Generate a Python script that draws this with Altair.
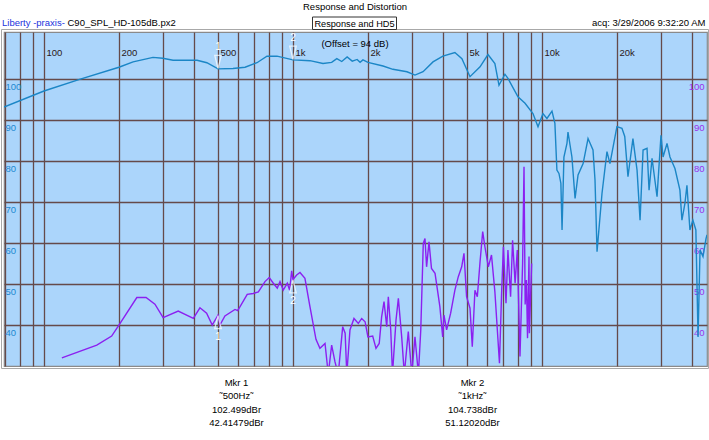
import altair as alt
import pandas as pd

# ---------------- data ----------------
resp_freq = [69.1, 100, 140, 200, 228, 274, 300, 330, 412, 451,
             500, 574, 642, 717, 786, 863, 1000, 1170, 1320, 1430,
             1500, 1570, 1650, 1730, 1810, 1860, 1910, 2000, 2300, 2520,
             2870, 3090, 3330, 3650, 4000, 4470, 4770, 5140, 5640, 6070,
             6470, 6720, 7100, 7300, 8010, 8550, 9200, 9640, 10090, 10470,
             10970, 11270, 11480, 11700, 11910, 12040, 12250, 12600, 12720, 13190,
             13580, 13960, 14630, 15310, 16030, 16330, 16640, 17420, 18240, 18750,
             20000, 20950, 21500, 22150, 23190, 24090, 24770, 25470, 26420, 26920,
             27670, 28980, 30060, 30640, 31780, 32660, 34200, 35810, 36480, 37510,
             38210, 39280, 40370, 41500, 42350, 43130, 44330, 45580, 46000]
resp_db = [93.2, 97.1, 100.0, 102.9, 104.2, 105.3, 105.1, 104.6, 104.6, 104.0,
           102.5, 102.6, 102.9, 104.0, 105.6, 105.6, 104.7, 104.5, 103.8, 104.1,
           105.0, 104.3, 105.4, 104.4, 104.8, 104.1, 104.7, 104.1, 103.2, 102.4,
           101.8, 101.0, 101.8, 104.2, 105.6, 106.5, 105.0, 100.6, 103.0, 106.0,
           103.8, 98.5, 101.2, 100.2, 95.7, 94.1, 91.6, 88.4, 91.6, 90.4,
           92.2, 89.2, 77.8, 77.0, 74.6, 63.2, 81.0, 84.3, 87.1, 81.0,
           70.9, 76.6, 79.4, 85.5, 82.7, 75.4, 57.9, 72.1, 82.3, 79.4,
           88.4, 88.0, 86.0, 76.2, 85.5, 77.8, 65.6, 82.7, 83.1, 72.9,
           80.7, 71.3, 86.3, 81.0, 84.3, 81.0, 78.2, 72.9, 65.6, 69.7,
           74.1, 63.2, 65.6, 63.2, 37.1, 58.3, 56.7, 61.1, 62.0]

hd5_freq = [118, 163, 187, 200, 236, 257, 279, 301, 346, 398,
            423, 450, 474, 500, 509, 533, 585, 600, 655, 693,
            726, 772, 803, 834, 865, 887, 914, 949, 970, 988,
            1000, 1035, 1067, 1117, 1170, 1237, 1283, 1345, 1386, 1430,
            1475, 1520, 1584, 1620, 1645, 1694, 1758, 1830, 1888, 1948,
            2000, 2090, 2155, 2220, 2270, 2321, 2380, 2415, 2470, 2510,
            2593, 2650, 2733, 2800, 2905, 3000, 3090, 3190, 3260, 3337,
            3390, 3440, 3518, 3600, 3720, 3890, 3993, 4040, 4140, 4298,
            4470, 4613, 4760, 4862, 4980, 5140, 5250, 5380, 5500, 5640,
            5780, 5900, 6090, 6270, 6470, 6750, 6890, 7000, 7170, 7300,
            7480, 7620, 7800, 7960, 8160, 8360, 8470, 8560, 8660, 8750,
            8870, 8900, 9090]
hd5_db = [32.0, 35.1, 37.3, 40.0, 46.7, 46.7, 45.1, 41.8, 43.4, 41.6,
          44.2, 42.9, 40.0, 42.4, 40.0, 42.2, 43.8, 43.5, 47.5, 47.7,
          48.1, 50.6, 51.6, 50.2, 49.0, 50.6, 48.5, 50.2, 48.5, 53.2,
          51.1, 52.2, 52.8, 51.4, 44.5, 36.5, 34.3, 35.5, 28.0, 35.1,
          31.0, 28.0, 39.6, 38.0, 28.0, 38.8, 41.6, 40.4, 41.6, 40.8,
          37.1, 37.3, 34.3, 35.5, 42.0, 45.7, 39.6, 46.9, 38.8, 28.0,
          41.2, 46.5, 37.1, 28.0, 38.4, 28.0, 37.1, 28.0, 38.8, 59.9,
          61.1, 54.2, 60.3, 53.8, 52.6, 44.5, 37.1, 42.4, 38.8, 42.9,
          48.5, 51.8, 54.2, 57.5, 46.9, 44.1, 34.7, 48.5, 46.9, 55.4,
          62.8, 59.1, 54.2, 57.1, 48.1, 30.7, 48.5, 59.1, 45.3, 58.3,
          46.9, 60.7, 50.2, 58.3, 32.3, 55.0, 78.6, 45.0, 51.0, 36.8,
          56.7, 38.0, 55.0]

marker_freq = [500, 1000]
marker_resp = [102.499, 104.738]
marker_hd5 = [42.41479, 51.12020]
marker_name = ["1", "2"]

x_grid_values = [70, 80, 90, 100, 200, 300, 400, 500, 600, 700, 800, 900,
                 1000, 2000, 3000, 4000, 5000, 6000, 7000, 8000, 9000,
                 10000, 20000, 30000, 40000]
x_label_values = [100, 200, 500, 1000, 2000, 5000, 10000, 20000]
y_tick_values = [40, 50, 60, 70, 80, 90, 100]

# ---------------- style ----------------
FONT = "Liberation Sans, Arial, Helvetica, sans-serif"
FS = 9.5
BG = "#ABD5FB"
GRID = "#654A4A"
BLUE = "#1B86C6"
PURPLE = "#8B20F0"
X_DOMAIN = [69.1, 46000]
Y_DOMAIN = [30, 111.5]

resp_df = pd.DataFrame({"f": resp_freq, "db": resp_db})
hd_df = pd.DataFrame({"f": hd5_freq, "db": hd5_db})
mk_df = pd.DataFrame({"f": marker_freq, "resp": marker_resp,
                      "hd": marker_hd5, "name": marker_name})

label_list = ",".join(str(v) for v in x_label_values)
x_enc = alt.X(
    "f:Q",
    scale=alt.Scale(type="log", domain=X_DOMAIN, nice=False),
    axis=alt.Axis(
        orient="top", values=x_grid_values, title=None,
        labelExpr=f"indexof([{label_list}], datum.value) >= 0 ? "
                  "(datum.value >= 1000 ? format(datum.value/1000, 'd') + 'k' : format(datum.value, 'd')) : ''",
        ticks=False, tickSize=0, domain=False, grid=True,
        gridColor=GRID, gridWidth=1.3, gridOpacity=1,
        labelPadding=-20.5, labelAlign="left", labelBaseline="middle",
        labelOffset=2, labelFont=FONT, labelFontSize=FS,
        labelColor="#2A1818", labelOverlap=False, labelFlush=False,
    ),
)

yscale = alt.Scale(domain=Y_DOMAIN, nice=False, zero=False)

resp_line = alt.Chart(resp_df).mark_line(color=BLUE, strokeWidth=1.4, clip=True).encode(
    x=x_enc,
    y=alt.Y("db:Q", scale=yscale, axis=alt.Axis(
        orient="left", values=y_tick_values, title=None, ticks=False, tickSize=0,
        domain=False, grid=True, gridColor=GRID, gridWidth=1.3, gridOpacity=1,
        labelPadding=-1, labelAlign="left", labelBaseline="top", labelOffset=2.5,
        labelFont=FONT, labelFontSize=FS, labelColor="#1E88CF",
    )),
)

hd_line = alt.Chart(hd_df).mark_line(color=PURPLE, strokeWidth=1.4, clip=True).encode(
    x=x_enc,
    y=alt.Y("db:Q", scale=yscale, axis=alt.Axis(
        orient="right", values=y_tick_values, title=None, ticks=False, tickSize=0,
        domain=False, grid=False,
        labelPadding=-3, labelAlign="right", labelBaseline="top", labelOffset=2.5,
        labelFont=FONT, labelFontSize=FS, labelColor="#9A30EA",
    )),
)

TRI_DOWN = "M -0.5 -1 L 0.5 -1 L 0 1 Z"
TRI_UP = "M -0.5 1 L 0.5 1 L 0 -1 Z"

mk_resp_tri = alt.Chart(mk_df).mark_point(
    shape=TRI_DOWN, size=170, filled=False, color="white", strokeWidth=1.3, yOffset=-7
).encode(x=x_enc, y=alt.Y("resp:Q", scale=yscale, axis=None))
mk_resp_txt = alt.Chart(mk_df).mark_text(
    color="white", fontSize=10, font=FONT, dy=-22
).encode(x=x_enc, y=alt.Y("resp:Q", scale=yscale, axis=None), text="name:N")
mk_hd_tri = alt.Chart(mk_df).mark_point(
    shape=TRI_UP, size=170, filled=False, color="white", strokeWidth=1.3, yOffset=7
).encode(x=x_enc, y=alt.Y("hd:Q", scale=yscale, axis=None))
mk_hd_txt = alt.Chart(mk_df).mark_text(
    color="white", fontSize=10.5, font=FONT, dy=22
).encode(x=x_enc, y=alt.Y("hd:Q", scale=yscale, axis=None), text="name:N")


def note(text, x, y, color="black", align="center", size=FS):
    return alt.Chart(pd.DataFrame({"t": [text]})).mark_text(
        align=align, baseline="middle", fontSize=size, color=color, font=FONT
    ).encode(x=alt.value(x), y=alt.value(y), text="t:N")


box = alt.Chart(pd.DataFrame({"t": [""]})).mark_rect(
    fill="white", stroke="#333333", strokeWidth=1
).encode(x=alt.value(308.5), x2=alt.value(392.5), y=alt.value(-15), y2=alt.value(-2.5))

outer = alt.Chart(pd.DataFrame({"t": [""]})).mark_rect(
    fill=None, stroke="#A8A8A8", strokeWidth=1
).encode(x=alt.value(-2.5), x2=alt.value(704.5), y=alt.value(-2.5), y2=alt.value(336.5))

notes = [
    note("Response and Distortion", 351, -25),
    note("Liberty -praxis-", -2, -9, color="#2233DD", align="left"),
    note("C90_SPL_HD-105dB.px2", 63.5, -9, align="left"),
    box,
    note("Response and HD5", 350.5, -8.5, size=9.2),
    note("acq: 3/29/2006 9:32:20 AM", 701.5, -9, align="right"),
    note("(Offset = 94 dB)", 351, 11.5),
    note("Mkr 1", 232.5, 350.5),
    note("˜500Hz˜", 232.5, 364),
    note("102.499dBr", 232.5, 377.5),
    note("42.41479dBr", 232.5, 391),
    note("Mkr 2", 468.5, 350.5),
    note("˜1kHz˜", 468.5, 364),
    note("104.738dBr", 468.5, 377.5),
    note("51.12020dBr", 468.5, 391),
]

chart = alt.layer(
    resp_line, hd_line, mk_resp_tri, mk_resp_txt, mk_hd_tri, mk_hd_txt, outer, *notes
).resolve_scale(y="independent").properties(
    width=703, height=334,
    padding={"left": 4, "top": 32, "right": 2, "bottom": 74},
    autosize=alt.AutoSizeParams(type="none"),
    background="white",
).configure_view(fill=BG, stroke="#8A8A8A", strokeWidth=1.2)

chart.save("out.html", embed_options={"renderer": "svg", "actions": False})
